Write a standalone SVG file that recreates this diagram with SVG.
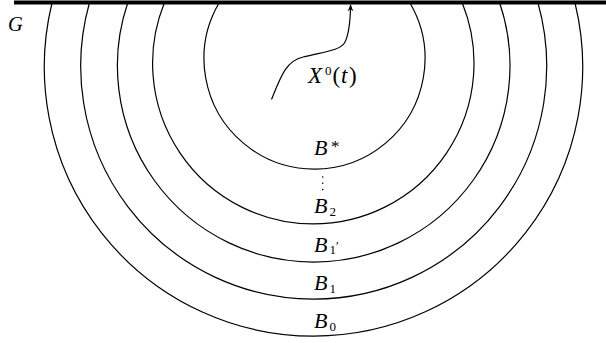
<svg xmlns="http://www.w3.org/2000/svg" width="606" height="343" viewBox="0 0 606 343">
<style>
.c{fill:none;stroke:#000;stroke-width:1.2}
text{font-family:'Liberation Serif','Times New Roman',serif;fill:#000}
.i{font-style:italic}
</style>
<defs>
<marker id="ah" viewBox="0 0 10 10" refX="9" refY="5" markerWidth="7" markerHeight="7" orient="auto" markerUnits="userSpaceOnUse">
<path d="M0,1 L10,5 L0,9 L3,5 Z" fill="#000"/>
</marker>
</defs>
<rect width="606" height="343" fill="#fff"/>
<g id="circles">
<path id="B0c" class="c" d="M52,3 A269.2,269.2 0 1 0 575,3"/>
<path id="B1c" class="c" d="M89.4,3 A233,233 0 1 0 538,3"/>
<path id="B1pc" class="c" d="M127.7,3 A196.3,196.3 0 1 0 499.7,3"/>
<path id="B2c" class="c" d="M164.3,3 A160.7,160.7 0 1 0 462.3,3"/>
<path id="Bsc" class="c" d="M219,3 A110.5,110.5 0 1 0 410,3"/>
</g>
<g id="boundary">
<line x1="14" y1="2.5" x2="606" y2="2.5" stroke="#000" stroke-width="4"/>
<text class="i" x="8" y="30.5" font-size="20.5" font-family="Liberation Serif, serif">G</text>
</g>
<g id="connectors">
<path class="c" d="M271.5,99.5 C281,76 286,61 303,57 C322,52 339,51 344.5,43 C349,35 350.3,22 350.6,5" marker-end="url(#ah)"/>
</g>
<g id="X0t">
<text font-size="23" y="83.3" font-family="Liberation Serif, serif"><tspan class="i" x="308">X</tspan><tspan x="325" y="75" font-size="13">0</tspan><tspan x="332.5" y="83.3">(</tspan><tspan class="i" x="341">t</tspan><tspan x="349">)</tspan></text>
</g>
<g id="Bstar">
<text class="i" x="314" y="155" font-size="22" font-family="Liberation Serif, serif">B</text>
<text x="331" y="152" font-size="17" font-family="Liberation Serif, serif">*</text>
</g>
<g id="dots">
<circle cx="322.7" cy="177" r="0.8"/>
<circle cx="322.7" cy="183.3" r="0.8"/>
<circle cx="322.7" cy="189.6" r="0.8"/>
</g>
<g id="B2">
<text class="i" x="314" y="213" font-size="22" font-family="Liberation Serif, serif">B</text>
<text x="329.5" y="215.5" font-size="13" font-family="Liberation Serif, serif">2</text>
</g>
<g id="B1p">
<text class="i" x="314" y="251.7" font-size="22" font-family="Liberation Serif, serif">B</text>
<text x="329.5" y="254" font-size="13" font-family="Liberation Serif, serif">1</text>
<text x="336" y="250" font-size="12" font-family="Liberation Serif, serif">′</text>
</g>
<g id="B1">
<text class="i" x="314" y="290" font-size="22" font-family="Liberation Serif, serif">B</text>
<text x="329.5" y="292.5" font-size="13" font-family="Liberation Serif, serif">1</text>
</g>
<g id="B0">
<text class="i" x="314" y="328" font-size="22" font-family="Liberation Serif, serif">B</text>
<text x="329.5" y="330.5" font-size="13" font-family="Liberation Serif, serif">0</text>
</g>
</svg>
